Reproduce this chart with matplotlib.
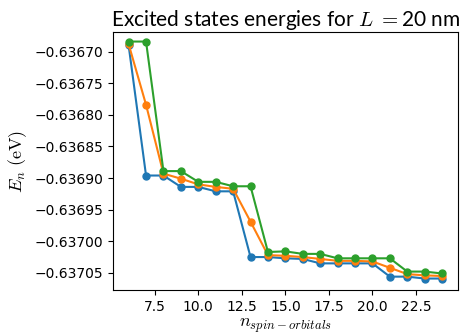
import matplotlib
matplotlib.use('Agg')
import matplotlib.pyplot as plt
import numpy as np

plt.rcParams['mathtext.fontset'] = 'cm'

n_orb = list(range(6, 25))

E_blue = [-0.636690, -0.636896, -0.636896, -0.636914, -0.636914, -0.636921, -0.636921,
          -0.637025, -0.637025, -0.637027, -0.637028, -0.637035, -0.637035, -0.637035,
          -0.637035, -0.637056, -0.637056, -0.637059, -0.637059]
E_orange = [-0.636688, -0.636784, -0.636893, -0.636901, -0.636910, -0.636914, -0.636917,
            -0.636969, -0.637022, -0.637023, -0.637025, -0.637028, -0.637031, -0.637031,
            -0.637032, -0.637042, -0.637052, -0.637054, -0.637055]
E_green = [-0.636684, -0.636684, -0.636889, -0.636889, -0.636906, -0.636906, -0.636913,
           -0.636913, -0.637017, -0.637016, -0.637020, -0.637020, -0.637027, -0.637027,
           -0.637027, -0.637027, -0.637048, -0.637048, -0.637051]

fig = plt.figure(figsize=(4.61, 3.34), dpi=100)
ax = fig.add_axes([0.245, 0.132, 0.748, 0.772])

ax.plot(n_orb, E_blue, 'o-', color='#1f77b4', markersize=5)
ax.plot(n_orb, E_orange, 'o-', color='#ff7f0e', markersize=5)
ax.plot(n_orb, E_green, 'o-', color='#2ca02c', markersize=5)

ax.set_xticks([7.5, 10.0, 12.5, 15.0, 17.5, 20.0, 22.5])
ax.set_yticks([-0.63670, -0.63675, -0.63680, -0.63685, -0.63690, -0.63695, -0.63700, -0.63705])
ax.set_yticklabels(['−0.63670', '−0.63675', '−0.63680', '−0.63685', '−0.63690',
                    '−0.63695', '−0.63700', '−0.63705'])
ax.set_xlim(5.1, 24.9)
ax.set_ylim(-0.637077, -0.636669)

ax.set_title('Excited states energies for $L$ $=$20 nm', fontsize=15, pad=4,
             family='Lato')
ax.set_xlabel('$n_{spin-orbitals}$', fontsize=13, labelpad=2)
ax.set_ylabel('$E_n\\ (\\mathrm{eV})$', fontsize=13)

fig.savefig('out.png', dpi=100)
